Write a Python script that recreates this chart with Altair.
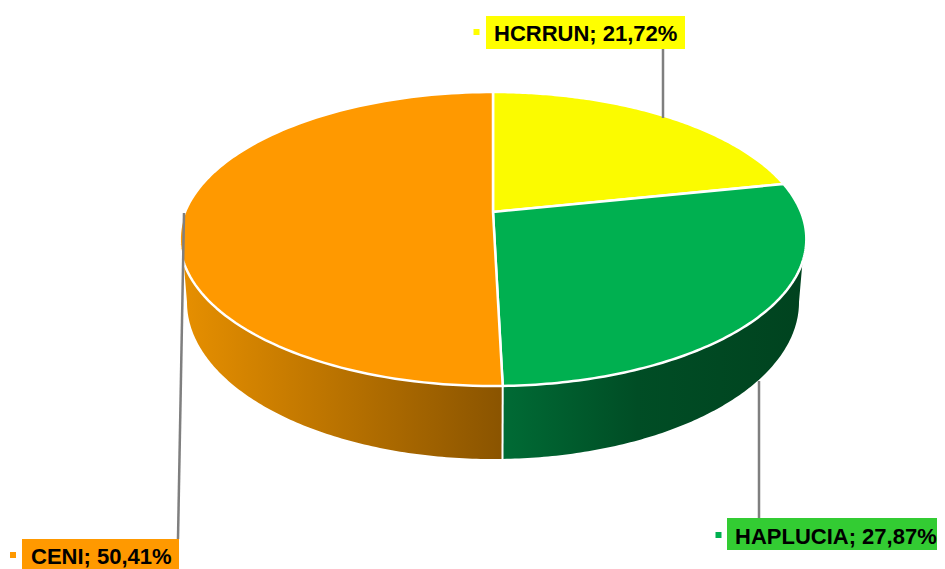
import math
import altair as alt
import pandas as pd

names = ["HCRRUN", "HAPLUCIA", "CENI"]
shares = [21.72, 27.87, 50.41]
top_colors = ["#FBFB00", "#00B050", "#FF9900"]
label_colors = ["#FFFF00", "#33CC33", "#FF9900"]
marker_colors = ["#FFFF00", "#00B050", "#FF9900"]
wall_stops = {
    "HAPLUCIA": [(0, "#006B35"), (0.45, "#004D25"), (1, "#00431F")],
    "CENI": [(0, "#E68F00"), (1, "#8A5400")],
}

# label boxes in picture pixels: x0, x1, y0, y1, text x, baseline y, marker x, marker y
label_layout = [
    (486, 685, 16, 49, 494, 40.5, 476.5, 32),
    (727, 937, 518, 550, 735, 544, 718.5, 535),
    (22, 179, 539, 575, 31, 563.5, 13, 555),
]
leaders = [(663, 49, 663, 118), (759, 381, 759, 518), (184, 213, 178, 539)]

# perspective of the top and bottom discs
X0 = 493.0
K = 0.1837
TOP = dict(a=308.0, b=-103.1, c=212.0)
BOT = dict(a=300.8, b=-101.5, c=273.2)


def project(deg, d):
    t = math.radians(deg)
    X, Y = math.sin(t), math.cos(t)
    w = 1 + K * Y
    return X0 + d["a"] * X / w, (d["b"] * Y + d["c"]) / w


def arc(d0, d1, d, n=120):
    return [project(d0 + (d1 - d0) * i / n, d) for i in range(n + 1)]


def poly(points):
    return pd.DataFrame(
        {"x": [p[0] for p in points], "y": [p[1] for p in points], "i": range(len(points))}
    )


xs = alt.Scale(domain=[8, 937])
ys = alt.Scale(domain=[569, 8])
X = alt.X("x:Q", scale=xs, axis=None)
Y = alt.Y("y:Q", scale=ys, axis=None)

bounds = [0.0]
for s in shares:
    bounds.append(bounds[-1] + s * 3.6)
bounds[-1] = 360.0
seam = bounds[2]
layers = []

# walls
wall_spans = {"HAPLUCIA": ((109.3, seam), (100.6, seam)), "CENI": ((seam, 250.5), (seam, 259.4))}
for name, (top_span, bot_span) in wall_spans.items():
    pts = arc(top_span[0], top_span[1], TOP) + arc(bot_span[1], bot_span[0], BOT)
    stops = [alt.GradientStop(offset=o, color=c) for o, c in wall_stops[name]]
    grad = alt.Gradient(gradient="linear", x1=0, y1=0, x2=1, y2=0, stops=stops)
    layers.append(
        alt.Chart(poly(pts))
        .mark_line(fill=grad, strokeWidth=0, stroke="transparent")
        .encode(x=X, y=Y, order="i:Q")
    )

# seam between the two visible walls
layers.append(
    alt.Chart(poly([project(seam, TOP), project(seam, BOT)]))
    .mark_line(color="white", strokeWidth=2)
    .encode(x=X, y=Y, order="i:Q")
)

# top slices
for i, name in enumerate(names):
    pts = [(X0, TOP["c"])] + arc(bounds[i], bounds[i + 1], TOP) + [(X0, TOP["c"])]
    layers.append(
        alt.Chart(poly(pts))
        .mark_line(fill=top_colors[i], stroke="white", strokeWidth=2.5, strokeJoin="round")
        .encode(x=X, y=Y, order="i:Q")
    )

# leader lines
lead = pd.DataFrame(leaders, columns=["x", "y", "x2", "y2"])
layers.append(
    alt.Chart(lead)
    .mark_rule(color="#7F7F7F", strokeWidth=2.5)
    .encode(x=X, y=Y, x2="x2:Q", y2="y2:Q")
)

# labels
lab = pd.DataFrame(label_layout, columns=["x", "x2", "y", "y2", "tx", "ty", "mx", "my"])
lab["text"] = [f"{n}; {s:.2f}%".replace(".", ",") for n, s in zip(names, shares)]
lab["bg"] = label_colors
lab["mc"] = marker_colors
layers.append(
    alt.Chart(lab)
    .mark_rect()
    .encode(x=X, y=Y, x2="x2:Q", y2="y2:Q", fill=alt.Fill("bg:N", scale=None))
)
layers.append(
    alt.Chart(lab)
    .mark_square(size=36, opacity=1)
    .encode(
        x=alt.X("mx:Q", scale=xs, axis=None),
        y=alt.Y("my:Q", scale=ys, axis=None),
        fill=alt.Fill("mc:N", scale=None),
    )
)
layers.append(
    alt.Chart(lab)
    .mark_text(align="left", baseline="alphabetic", font="Liberation Sans", fontWeight="bold", fontSize=22, color="#000000")
    .encode(
        x=alt.X("tx:Q", scale=xs, axis=None),
        y=alt.Y("ty:Q", scale=ys, axis=None),
        text="text:N",
    )
)

chart = (
    alt.layer(*layers)
    .properties(width=929, height=561, padding=0, background="white",
                autosize=alt.AutoSizeParams(type="none"))
    .configure_view(stroke="transparent", strokeWidth=0)
)
chart.save("out.html", embed_options={"renderer": "svg", "actions": False})
